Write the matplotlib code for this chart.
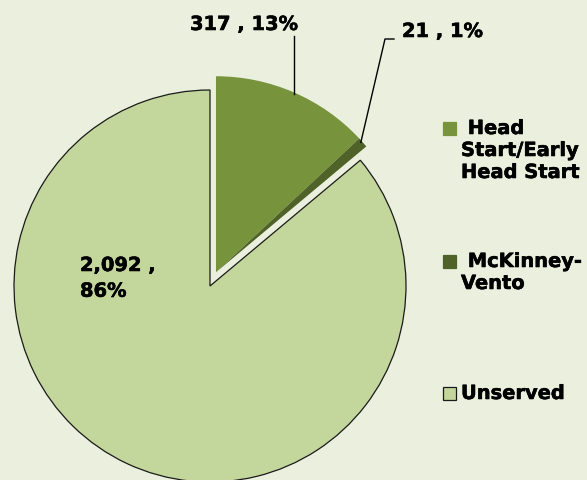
import matplotlib
matplotlib.use("Agg")
import matplotlib.pyplot as plt
import matplotlib.patheffects as pe
from matplotlib.patches import Rectangle
import numpy as np

categories = ["Head Start/Early Head Start", "McKinney-Vento", "Unserved"]
legend_labels = [" Head\nStart/Early\nHead Start", " McKinney-\nVento", "Unserved"]
counts = [317, 21, 2092]
colors = ["#77933C", "#4F6228", "#C3D69B"]

W, H = 587, 481
bg = "#EBF0DE"

fig = plt.figure(figsize=(W / 100, H / 100), dpi=100, facecolor=bg)
ax = fig.add_axes([0, 0, 1, 1])
ax.set_facecolor(bg)

total = sum(counts)
pct = [round(100 * c / total) for c in counts]

# explode is in data units here (pixels)
wedges, _ = ax.pie(counts, colors=colors, startangle=90, counterclock=False,
                   explode=[15, 15, 0], center=(210, H - 287), radius=196,
                   wedgeprops=dict(linewidth=0))
# the two served slices are pulled out together
wedges[1].set_center(wedges[0].center)
wedges[2].set_edgecolor("#1a1a1a")
wedges[2].set_linewidth(0.9)
ax.set_xlim(0, W)
ax.set_ylim(0, H)
ax.axis("off")

heavy = [pe.withStroke(linewidth=0.4, foreground="black")]
font = dict(family="DejaVu Sans", weight="bold", size=14, color="black", path_effects=heavy)

def arc_point(w):
    a = np.deg2rad((w.theta1 + w.theta2) / 2)
    return (w.center[0] + w.r * np.cos(a), w.center[1] + w.r * np.sin(a))

# Head Start label
ax.text(190, H - 31, f"{counts[0]:,} , {pct[0]}%", ha="left", va="baseline", **font)
p = arc_point(wedges[0])
ax.plot([p[0], p[0]], [p[1] - 2, H - 37], color="black", lw=1)

# McKinney label
ax.text(402, H - 38, f"{counts[1]:,} , {pct[1]}%", ha="left", va="baseline", **font)
p = arc_point(wedges[1])
ax.plot([p[0] - 2, 385, 394], [p[1], H - 40, H - 40], color="black", lw=1)

# Unserved label
ax.text(80, H - 257, f"{counts[2]:,} ,\n{pct[2]}%", ha="left", va="top",
        linespacing=1.45, **font)

# legend
leg_y = [129, 262, 394]
for lab, col, y in zip(legend_labels, colors, leg_y):
    ec = "#1a1a1a" if col == colors[2] else col
    ax.add_patch(Rectangle((443, H - y - 6.5), 13, 13, facecolor=col, edgecolor=ec, lw=0.9))
    ax.text(461, H - y + 9, lab, ha="left", va="top", linespacing=1.2, **font)

fig.savefig("out.png", dpi=100, facecolor=bg)
